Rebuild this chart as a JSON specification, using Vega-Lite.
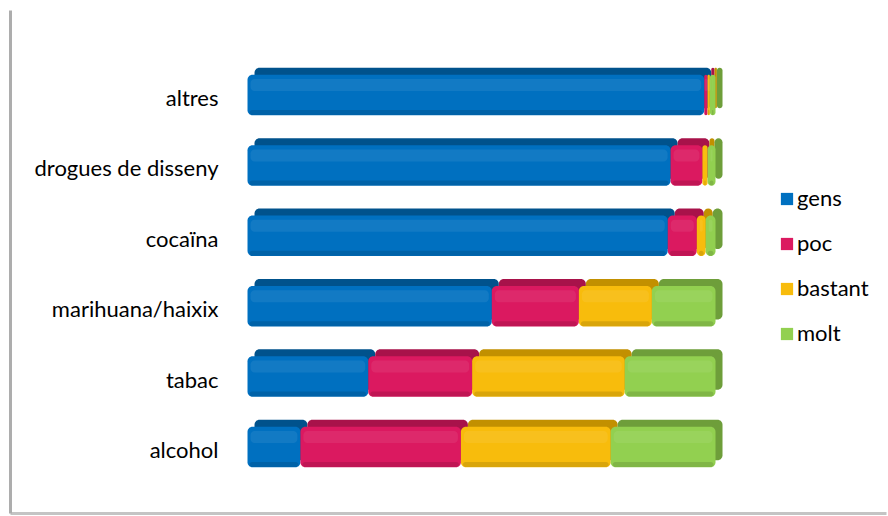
{
  "$schema": "https://vega.github.io/schema/vega-lite/v6.json",
  "autosize": "none",
  "width": 876,
  "height": 503,
  "padding": {"left": 10, "top": 10, "right": 2, "bottom": 3},
  "background": "white",
  "config": {"view": {"stroke": null}},
  "data": {"values": [
    {"cat": "altres", "s": "gens", "k": 1, "v": 97.6},
    {"cat": "altres", "s": "poc", "k": 2, "v": 0.7},
    {"cat": "altres", "s": "bastant", "k": 3, "v": 0.5},
    {"cat": "altres", "s": "molt", "k": 4, "v": 1.2},
    {"cat": "drogues de disseny", "s": "gens", "k": 1, "v": 90.4},
    {"cat": "drogues de disseny", "s": "poc", "k": 2, "v": 6.8},
    {"cat": "drogues de disseny", "s": "bastant", "k": 3, "v": 1.1},
    {"cat": "drogues de disseny", "s": "molt", "k": 4, "v": 1.7},
    {"cat": "cocaïna", "s": "gens", "k": 1, "v": 89.8},
    {"cat": "cocaïna", "s": "poc", "k": 2, "v": 6.2},
    {"cat": "cocaïna", "s": "bastant", "k": 3, "v": 1.9},
    {"cat": "cocaïna", "s": "molt", "k": 4, "v": 2.1},
    {"cat": "marihuana/haixix", "s": "gens", "k": 1, "v": 52.2},
    {"cat": "marihuana/haixix", "s": "poc", "k": 2, "v": 18.6},
    {"cat": "marihuana/haixix", "s": "bastant", "k": 3, "v": 15.6},
    {"cat": "marihuana/haixix", "s": "molt", "k": 4, "v": 13.6},
    {"cat": "tabac", "s": "gens", "k": 1, "v": 25.8},
    {"cat": "tabac", "s": "poc", "k": 2, "v": 22.2},
    {"cat": "tabac", "s": "bastant", "k": 3, "v": 32.6},
    {"cat": "tabac", "s": "molt", "k": 4, "v": 19.4},
    {"cat": "alcohol", "s": "gens", "k": 1, "v": 11.3},
    {"cat": "alcohol", "s": "poc", "k": 2, "v": 34.3},
    {"cat": "alcohol", "s": "bastant", "k": 3, "v": 32.0},
    {"cat": "alcohol", "s": "molt", "k": 4, "v": 22.4}
  ]},
  "transform": [
    {"stack": "v", "groupby": ["cat"], "sort": [{"field": "k", "order": "ascending"}],
     "offset": "normalize", "as": ["x0", "x1"]}
  ],
  "encoding": {
    "y": {
      "field": "cat", "type": "nominal",
      "sort": ["altres", "drogues de disseny", "cocaïna", "marihuana/haixix", "tabac", "alcohol"],
      "scale": {"paddingInner": 0.425, "paddingOuter": 0.785, "align": 0.586},
      "axis": {
        "title": null, "ticks": false, "labelPadding": -208, "labelOffset": 4,
        "labelFont": "Lato", "labelFontSize": 22, "labelColor": "#000000", "labelLimit": 400,
        "domain": true, "domainColor": "#adadad", "domainWidth": 3
      }
    },
    "x": {
      "field": "x0", "type": "quantitative",
      "scale": {"domain": [-0.5075, 1.3643], "nice": false, "zero": false},
      "axis": {"title": null, "labels": false, "ticks": false, "grid": false,
               "domain": true, "domainColor": "#c4c4c4", "domainWidth": 3}
    },
    "x2": {"field": "x1"}
  },
  "layer": [
    {
      "mark": {"type": "bar", "cornerRadius": 5, "xOffset": 7, "x2Offset": 7, "yOffset": -7},
      "encoding": {
        "color": {
          "field": "s", "type": "nominal",
          "scale": {"domain": ["gens", "poc", "bastant", "molt"],
                    "range": ["#00528c", "#a8124a", "#c29000", "#6e9e3a"]},
          "legend": null
        }
      }
    },
    {
      "mark": {"type": "bar", "cornerRadius": 5},
      "encoding": {
        "color": {
          "field": "s", "type": "nominal",
          "scale": {"domain": ["gens", "poc", "bastant", "molt"],
                    "range": ["#0070c0", "#db1960", "#f8bc0c", "#92d050"]},
          "legend": {
            "title": null, "orient": "none", "legendX": 766, "legendY": 178,
            "padding": 0, "symbolType": "square", "symbolSize": 150,
            "symbolStrokeWidth": 0, "labelFont": "Lato", "labelFontSize": 22,
            "labelColor": "#000000", "rowPadding": 23, "labelOffset": -1
          }
        }
      }
    },
    {
      "mark": {"type": "bar", "cornerRadius": 3, "height": 5, "yOffset": 17.5,
               "xOffset": 2, "x2Offset": -2,
               "fill": "#000000", "opacity": 0.12},
      "encoding": {}
    },
    {
      "mark": {"type": "bar", "cornerRadius": 4, "height": 12, "yOffset": -10,
               "xOffset": 3, "x2Offset": -3,
               "fill": "#ffffff", "opacity": 0.07},
      "encoding": {}
    }
  ],
  "resolve": {"scale": {"color": "independent"}}
}
